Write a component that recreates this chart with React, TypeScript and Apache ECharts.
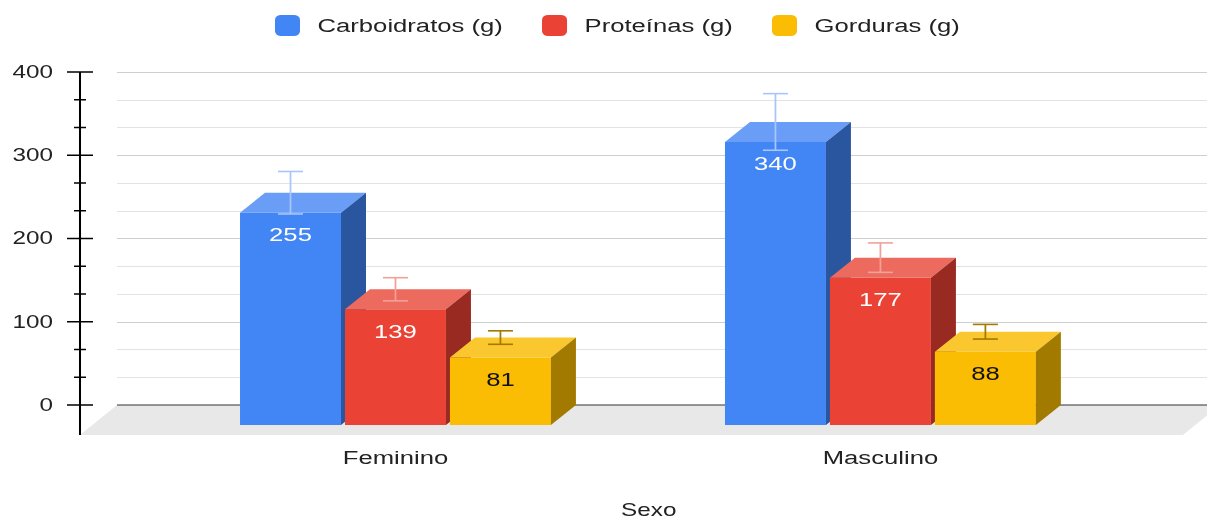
import React, { useEffect, useRef } from "react";
import * as echarts from "echarts";

// ---- data ----
const categories = ["Feminino", "Masculino"];
const seriesNames = ["Carboidratos (g)", "Proteínas (g)", "Gorduras (g)"];
const carbValues = [255, 340];
const protValues = [139, 177];
const fatValues = [81, 88];
const carbErrors = [25.5, 34];
const protErrors = [13.9, 17.7];
const fatErrors = [8.1, 8.8];
const yTicks = [0, 100, 200, 300, 400];
const xAxisTitle = "Sexo";

// ---- styles ----
const STRETCH = 1.35; // the reference is horizontally stretched
const W = 1207 / STRETCH;
const H = 519;
const FONT = "'Liberation Sans', Arial, sans-serif";
const palettes = [
  { front: "#4285F4", top: "#6A9DF6", side: "#2A56A0", err: "#A9C6FA", label: "#ffffff" },
  { front: "#EA4335", top: "#EC6A5E", side: "#982A22", err: "#F3A198", label: "#ffffff" },
  { front: "#FBBC04", top: "#FAC72F", side: "#A37A00", err: "#A27A00", label: "#111111" },
];
const BAR_DX = 25 / STRETCH;
const BAR_DY = 20;
const FLOOR_DX = 37 / STRETCH;
const FLOOR_DY = 30;

export default function App() {
  const ref = useRef<HTMLDivElement>(null);

  useEffect(() => {
    document.body.style.margin = "0";
    document.body.style.overflow = "hidden";
    const chart = echarts.init(ref.current!, null, { renderer: "svg" });

    const valueSets = [carbValues, protValues, fatValues];
    const errorSets = [carbErrors, protErrors, fatErrors];

    const barSeries = seriesNames.map((name, k) => {
      const pal = palettes[k];
      return {
        type: "custom",
        name,
        xAxisIndex: 1,
        yAxisIndex: 1,
        itemStyle: { color: pal.front },
        data: categories.map((_, i) => [i, valueSets[k][i], errorSets[k][i]]),
        renderItem: (params: any, api: any) => {
          const cat = api.value(0);
          const val = api.value(1);
          const err = api.value(2);
          const base = api.coord([cat, 0]);
          const top = api.coord([cat, val]);
          const catW = api.size([1, 0])[0];
          const barW = catW * 0.2082;
          const gap = catW * 0.00825;
          const x0 = base[0] - 1.5 * barW - gap + k * (barW + gap);
          const yT = top[1];
          const yB = base[1];
          const dx = BAR_DX;
          const dy = BAR_DY;
          const cx = x0 + barW / 2;
          const eHi = api.coord([cat, val + err])[1] - dy;
          const eLo = api.coord([cat, val - err])[1] - dy;
          const capHalf = barW * 0.124;
          return {
            type: "group",
            children: [
              { type: "rect", shape: { x: x0, y: yT, width: barW, height: yB - yT }, style: { fill: pal.front } },
              {
                type: "polygon",
                shape: { points: [[x0, yT], [x0 + barW, yT], [x0 + barW + dx, yT - dy], [x0 + dx, yT - dy]] },
                style: { fill: pal.top },
              },
              {
                type: "polygon",
                shape: { points: [[x0 + barW, yT], [x0 + barW + dx, yT - dy], [x0 + barW + dx, yB - dy], [x0 + barW, yB]] },
                style: { fill: pal.side },
              },
              { type: "line", shape: { x1: cx, y1: eHi, x2: cx, y2: eLo }, style: { stroke: pal.err, lineWidth: 1.3 } },
              { type: "line", shape: { x1: cx - capHalf, y1: eHi, x2: cx + capHalf, y2: eHi }, style: { stroke: pal.err, lineWidth: 1.6 } },
              { type: "line", shape: { x1: cx - capHalf, y1: eLo, x2: cx + capHalf, y2: eLo }, style: { stroke: pal.err, lineWidth: 1.6 } },
              {
                type: "text",
                x: cx,
                y: yT + 22,
                style: {
                  text: String(val),
                  align: "center",
                  verticalAlign: "middle",
                  fontSize: 19,
                  fontFamily: FONT,
                  fill: pal.label,
                },
              },
            ],
          };
        },
      };
    });

    const decorSeries = {
      type: "custom",
      name: "floor",
      silent: true,
      xAxisIndex: 0,
      yAxisIndex: 0,
      data: [[0, 0]],
      renderItem: (params: any, api: any) => {
        const p0 = api.coord([0, 0]);
        const p1 = api.coord([1, 0]);
        const yTop = api.coord([0, yTicks[yTicks.length - 1]])[1];
        const ax = p0[0] - FLOOR_DX;
        const children: any[] = [
          {
            type: "polygon",
            shape: {
              points: [
                [p0[0], p0[1]],
                [p1[0], p1[1]],
                [p1[0] - FLOOR_DX, p1[1] + FLOOR_DY],
                [p0[0] - FLOOR_DX, p0[1] + FLOOR_DY],
              ],
            },
            style: { fill: "#E8E8E8" },
          },
          { type: "line", shape: { x1: p0[0], y1: p0[1], x2: p1[0], y2: p1[1] }, style: { stroke: "#333", lineWidth: 1.2 } },
          { type: "line", shape: { x1: ax, y1: yTop, x2: ax, y2: p0[1] + FLOOR_DY }, style: { stroke: "#000", lineWidth: 1.5 } },
        ];
        for (let i = 0; i < yTicks.length; i++) {
          const y = api.coord([0, yTicks[i]])[1];
          const half = 13 / STRETCH;
          children.push({ type: "line", shape: { x1: ax - half, y1: y, x2: ax + half, y2: y }, style: { stroke: "#000", lineWidth: 1.5 } });
          if (i < yTicks.length - 1) {
            const step = (yTicks[i + 1] - yTicks[i]) / 3;
            for (let m = 1; m < 3; m++) {
              const ym = api.coord([0, yTicks[i] + step * m])[1];
              const mh = 6 / STRETCH;
              children.push({ type: "line", shape: { x1: ax - mh, y1: ym, x2: ax + mh, y2: ym }, style: { stroke: "#000", lineWidth: 1.5 } });
            }
          }
        }
        return { type: "group", children };
      },
    };

    chart.setOption({
      animation: false,
      legend: {
        data: seriesNames,
        left: 275 / STRETCH,
        top: 15,
        padding: 0,
        icon: "roundRect",
        itemWidth: 25 / STRETCH,
        itemHeight: 21,
        itemGap: 29,
        textStyle: { fontSize: 19, color: "#222", fontFamily: FONT, padding: [0, 0, 0, 8] },
      },
      grid: [
        { left: 117 / STRETCH, right: W - 1220 / STRETCH, top: 72, bottom: H - 405, outerBoundsMode: "none", containLabel: false },
        { left: 153 / STRETCH, right: W - 1123 / STRETCH, top: 92, bottom: H - 425, outerBoundsMode: "none", containLabel: false },
      ],
      xAxis: [
        { type: "value", gridIndex: 0, min: 0, max: 1, show: false },
        {
          type: "category",
          gridIndex: 1,
          data: categories,
          axisLine: { show: false },
          axisTick: { show: false },
          axisLabel: { margin: 23, fontSize: 19, color: "#222", fontFamily: FONT },
          name: xAxisTitle,
          nameLocation: "middle",
          nameGap: 76,
          nameTextStyle: { fontSize: 18, color: "#222", fontFamily: FONT, padding: [0, 0, 0, 16] },
        },
      ],
      yAxis: [
        {
          type: "value",
          gridIndex: 0,
          min: yTicks[0],
          max: yTicks[yTicks.length - 1],
          interval: yTicks[1] - yTicks[0],
          axisLine: { show: false },
          axisTick: { show: false },
          axisLabel: { margin: (117 - 53) / STRETCH, fontSize: 18, color: "#222", fontFamily: FONT },
          splitLine: { lineStyle: { color: "#CFCFCF", width: 1 } },
          minorTick: { show: false, splitNumber: 3 },
          minorSplitLine: { show: true, lineStyle: { color: "#E3E3E3", width: 1 } },
        },
        {
          type: "value",
          gridIndex: 1,
          min: yTicks[0],
          max: yTicks[yTicks.length - 1],
          show: false,
        },
      ],
      series: [decorSeries, ...barSeries],
    });

    return () => chart.dispose();
  }, []);

  return (
    <div
      ref={ref}
      style={{
        position: "fixed",
        left: 0,
        top: 0,
        width: W + "px",
        height: H + "px",
        transform: `scaleX(${STRETCH})`,
        transformOrigin: "0 0",
      }}
    />
  );
}
